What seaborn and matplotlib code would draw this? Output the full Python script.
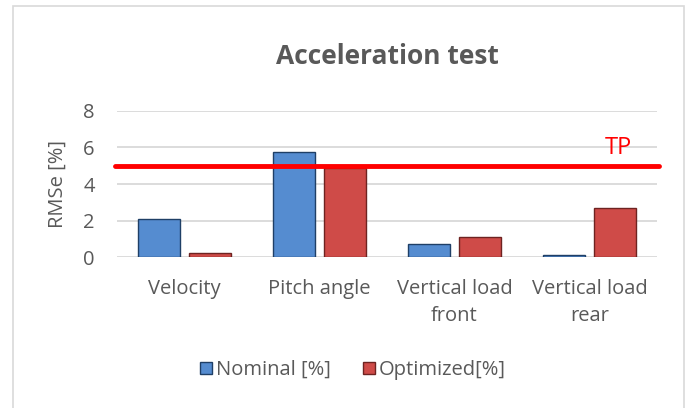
import matplotlib
matplotlib.use("Agg")
import matplotlib.pyplot as plt
import matplotlib.patches as mpatches
import seaborn as sns
import pandas as pd

# chart data
categories = ["Velocity", "Pitch angle", "Vertical load\nfront", "Vertical load\nrear"]
nominal = [2.1, 5.75, 0.72, 0.12]
optimized = [0.22, 4.9, 1.12, 2.7]
series_names = ["Nominal [%]", "Optimized[%]"]
tp_level = 5.0
y_ticks = [0, 2, 4, 6, 8]

df = pd.DataFrame({
    "category": categories * 2,
    "value": nominal + optimized,
    "series": [series_names[0]] * len(categories) + [series_names[1]] * len(categories),
})

sns.set_style("white")
plt.rcParams["font.family"] = ["Open Sans", "DejaVu Sans"]

text_gray = "#595959"
blue = "#558CD0"
red = "#CF4B48"
blue_edge = "#1F3F66"
red_edge = "#6E2321"
fs = 14.5

fig = plt.figure(figsize=(6.88, 4.08), dpi=100)
ax = fig.add_axes([0.170, 0.370, 0.785, 0.358])

sns.barplot(data=df, x="category", y="value", hue="series",
            palette=[blue, red], saturation=1, width=0.76, gap=0.18,
            edgecolor="none", legend=False, ax=ax)

# darker edges for a bit of the bevel look
for i, p in enumerate(ax.patches):
    p.set_edgecolor(blue_edge if i < len(categories) else red_edge)
    p.set_linewidth(1.0)

ax.set_ylim(0, 8)
ax.set_xlim(-0.5, len(categories) - 0.5)
ax.set_yticks(y_ticks)
ax.yaxis.grid(True, color="#D9D9D9", linewidth=1.3)
ax.set_axisbelow(True)
for s in ax.spines.values():
    s.set_visible(False)

ax.axhline(tp_level, color="#FF0000", linewidth=3.5, xmin=-0.003, xmax=1.003, clip_on=False)
ax.text(3.21, tp_level + 0.3, "TP", color="#FF0000", fontsize=17, ha="center", va="bottom")

ax.tick_params(axis="x", length=0, labelsize=fs, colors=text_gray, pad=16)
ax.tick_params(axis="y", length=0, labelsize=fs, colors=text_gray, pad=16)
for lbl in ax.get_xticklabels():
    lbl.set_linespacing(1.45)
ax.set_xlabel("")
ax.set_ylabel("RMSe [%]", fontsize=fs, color=text_gray, labelpad=11)

fig.text(0.563, 0.862, "Acceleration test", ha="center", va="center",
         fontsize=19, fontweight="bold", color=text_gray)

handles = [mpatches.Patch(facecolor=blue, edgecolor=blue_edge, label=series_names[0]),
           mpatches.Patch(facecolor=red, edgecolor=red_edge, label=series_names[1])]
fig.legend(handles=handles, loc="center", bbox_to_anchor=(0.513, 0.093), ncol=2,
           frameon=False, fontsize=fs, handlelength=0.6, handleheight=0.6,
           handletextpad=0.2, columnspacing=1.6, labelcolor=text_gray)

# chart frame
fig.patches.append(mpatches.Rectangle((13 / 688, -0.05), 671 / 688, 1.05 - 6 / 408,
                                      transform=fig.transFigure, fill=False,
                                      edgecolor="#D9D9D9", linewidth=1.2))

fig.savefig("out.png", dpi=100)
